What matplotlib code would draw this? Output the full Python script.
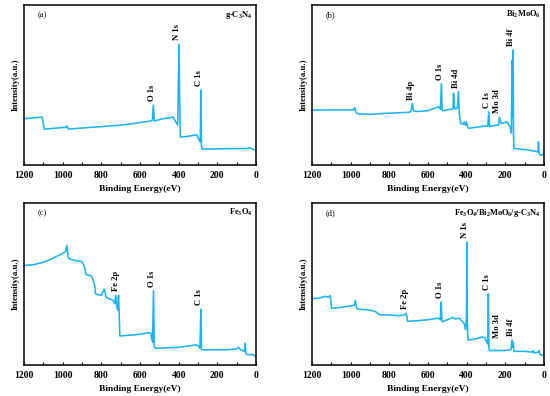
import matplotlib
matplotlib.use("Agg")
import matplotlib.pyplot as plt
from matplotlib.ticker import MultipleLocator

plt.rcParams['font.family'] = ['Liberation Serif', 'DejaVu Serif']
plt.rcParams['font.weight'] = 'bold'
plt.rcParams['mathtext.fontset'] = 'custom'
plt.rcParams['mathtext.rm'] = 'Liberation Serif:bold'
plt.rcParams['mathtext.it'] = 'Liberation Serif:bold'
plt.rcParams['mathtext.bf'] = 'Liberation Serif:bold'

# ---- data (binding energy eV, normalized intensity) ----
a_be = [1200, 1150, 1118, 1106, 1095, 1000, 985, 978, 970, 900, 807, 700, 634, 548, 536, 531, 526, 514, 480, 428,
        415, 405, 398, 395, 391, 350, 307, 295, 288, 285, 282, 278, 150, 40, 31, 20, 0]
a_int = [0.29, 0.295, 0.30, 0.30, 0.225, 0.235, 0.235, 0.245, 0.225, 0.232, 0.24, 0.25, 0.26, 0.275, 0.28, 0.375, 0.275, 0.28, 0.29, 0.30,
         0.27, 0.25, 0.754, 0.40, 0.175, 0.18, 0.19, 0.16, 0.146, 0.469, 0.12, 0.10, 0.103, 0.104, 0.11, 0.10, 0.094]

b_be = [1200, 1100, 1000, 985, 978, 972, 960, 900, 800, 700, 688, 680, 674, 660, 600, 545, 535, 530, 526, 520, 480,
        470, 467, 462, 455, 447, 442, 437, 430, 415, 412, 405, 400, 395, 390, 300, 290, 285, 281, 270, 240,
        234, 230, 220, 190, 175, 168, 164, 162, 159, 157, 155, 100, 60, 30, 28, 25, 22, 10, 0]
b_int = [0.344, 0.345, 0.345, 0.345, 0.36, 0.33, 0.32, 0.318, 0.325, 0.33, 0.335, 0.385, 0.34, 0.335, 0.34, 0.365, 0.35, 0.51, 0.34, 0.34, 0.35,
         0.35, 0.45, 0.36, 0.35, 0.36, 0.46, 0.32, 0.26, 0.255, 0.27, 0.25, 0.27, 0.24, 0.23, 0.245, 0.245, 0.333, 0.24, 0.245, 0.25,
         0.25, 0.30, 0.26, 0.27, 0.24, 0.20, 0.656, 0.30, 0.72, 0.20, 0.104, 0.098, 0.09, 0.083, 0.146, 0.08, 0.065, 0.0625, 0.07]

c_be = [1200, 1150, 1100, 1050, 1000, 985, 978, 970, 950, 930, 900, 885, 880, 850, 835, 830, 800, 785, 775, 760, 740,
        730, 725, 720, 715, 711, 707, 704, 650, 600, 560, 545, 535, 530, 526, 520, 400, 310, 300, 290, 285, 282, 278,
        150, 100, 90, 80, 60, 56, 52, 45, 20, 10, 0]
c_int = [0.615, 0.62, 0.635, 0.66, 0.69, 0.70, 0.74, 0.66, 0.65, 0.645, 0.64, 0.60, 0.56, 0.55, 0.50, 0.44, 0.43, 0.47, 0.42, 0.41, 0.40,
         0.38, 0.43, 0.36, 0.34, 0.43, 0.30, 0.18, 0.185, 0.19, 0.20, 0.20, 0.14, 0.46, 0.11, 0.104, 0.11, 0.125, 0.12, 0.105, 0.344, 0.10, 0.094,
         0.095, 0.10, 0.11, 0.095, 0.085, 0.135, 0.07, 0.065, 0.065, 0.0625, 0.05]

d_be = [1200, 1160, 1130, 1115, 1105, 1098, 1060, 1000, 980, 975, 968, 950, 900, 870, 850, 800, 750, 720, 713, 710, 705,
        650, 600, 545, 535, 531, 527, 520, 480, 470, 460, 440, 420, 410, 405, 400, 398, 396, 393, 360, 320, 305, 295, 290,
        287, 284, 280, 200, 170, 165, 162, 158, 155, 100, 60, 55, 50, 30, 25, 20, 10, 0]
d_int = [0.41, 0.415, 0.425, 0.42, 0.43, 0.35, 0.355, 0.365, 0.37, 0.40, 0.35, 0.345, 0.34, 0.33, 0.31, 0.31, 0.305, 0.31, 0.32, 0.31, 0.27,
         0.275, 0.28, 0.29, 0.28, 0.39, 0.27, 0.27, 0.29, 0.295, 0.285, 0.29, 0.27, 0.25, 0.22, 0.30, 0.76, 0.30, 0.155, 0.16, 0.173, 0.17, 0.14, 0.13,
         0.44, 0.10, 0.09, 0.09, 0.095, 0.155, 0.11, 0.14, 0.085, 0.085, 0.08, 0.09, 0.075, 0.08, 0.09, 0.065, 0.06, 0.065]

panels = [
    dict(be=a_be, it=a_int, tag='(a)', name=r'g-C$_3$N$_4$',
         peaks=[('O 1s', 531, 0.39), ('N 1s', 398, 0.77), ('C 1s', 285, 0.485)]),
    dict(be=b_be, it=b_int, tag='(b)', name=r'Bi$_2$MoO$_6$',
         peaks=[('Bi 4p', 680, 0.40), ('O 1s', 530, 0.525), ('Bi 4d', 447, 0.475),
                ('C 1s', 285, 0.35), ('Mo 3d', 232, 0.315), ('Bi 4f', 160, 0.735)]),
    dict(be=c_be, it=c_int, tag='(c)', name=r'Fe$_3$O$_4$',
         peaks=[('Fe 2p', 718, 0.445), ('O 1s', 530, 0.475), ('C 1s', 285, 0.36)]),
    dict(be=d_be, it=d_int, tag='(d)', name=r'Fe$_3$O$_4$/Bi$_2$MoO$_6$/g-C$_3$N$_4$',
         peaks=[('Fe 2p', 711, 0.335), ('O 1s', 531, 0.405), ('N 1s', 398, 0.775),
                ('C 1s', 287, 0.455), ('Mo 3d', 232, 0.155), ('Bi 4f', 162, 0.17)]),
]

positions = [
    [0.0436, 0.583, 0.4218, 0.404],
    [0.567, 0.583, 0.4218, 0.404],
    [0.0436, 0.078, 0.4218, 0.409],
    [0.567, 0.078, 0.4218, 0.409],
]

color = '#1DB3F0'
fig = plt.figure(figsize=(5.5, 3.96), dpi=100)
for p, pos in zip(panels, positions):
    ax = fig.add_axes(pos)
    ax.plot(p['be'], p['it'], color=color, lw=1.15)
    ax.set_xlim(1200, 0)
    ax.set_ylim(0, 1)
    ax.xaxis.set_major_locator(MultipleLocator(200))
    ax.xaxis.set_minor_locator(MultipleLocator(100))
    ax.tick_params(axis='x', which='both', direction='in', labelsize=7, pad=4,
                   top=False, length=2, width=0.8)
    ax.set_yticks([])
    for lab in ax.get_xticklabels():
        lab.set_fontweight('bold')
    for s in ax.spines.values():
        s.set_linewidth(1.1)
    ax.set_xlabel('Binding Energy(eV)', fontsize=6.8, fontweight='bold', labelpad=4)
    ax.set_ylabel('Intensity(a.u.)', fontsize=6.3, fontweight='bold', labelpad=3)
    ax.text(0.06, 0.94, p['tag'], transform=ax.transAxes, fontsize=6, va='center', ha='left',
            fontweight='normal')
    ax.text(0.985, 0.94, p['name'], transform=ax.transAxes, fontsize=6, va='center', ha='right',
            fontweight='bold')
    for name, x, y in p['peaks']:
        ax.text(x + 8, y + 0.01, name, rotation=90, fontsize=6.2, ha='center', va='bottom',
                fontweight='bold')

fig.savefig('out.png', dpi=100)
